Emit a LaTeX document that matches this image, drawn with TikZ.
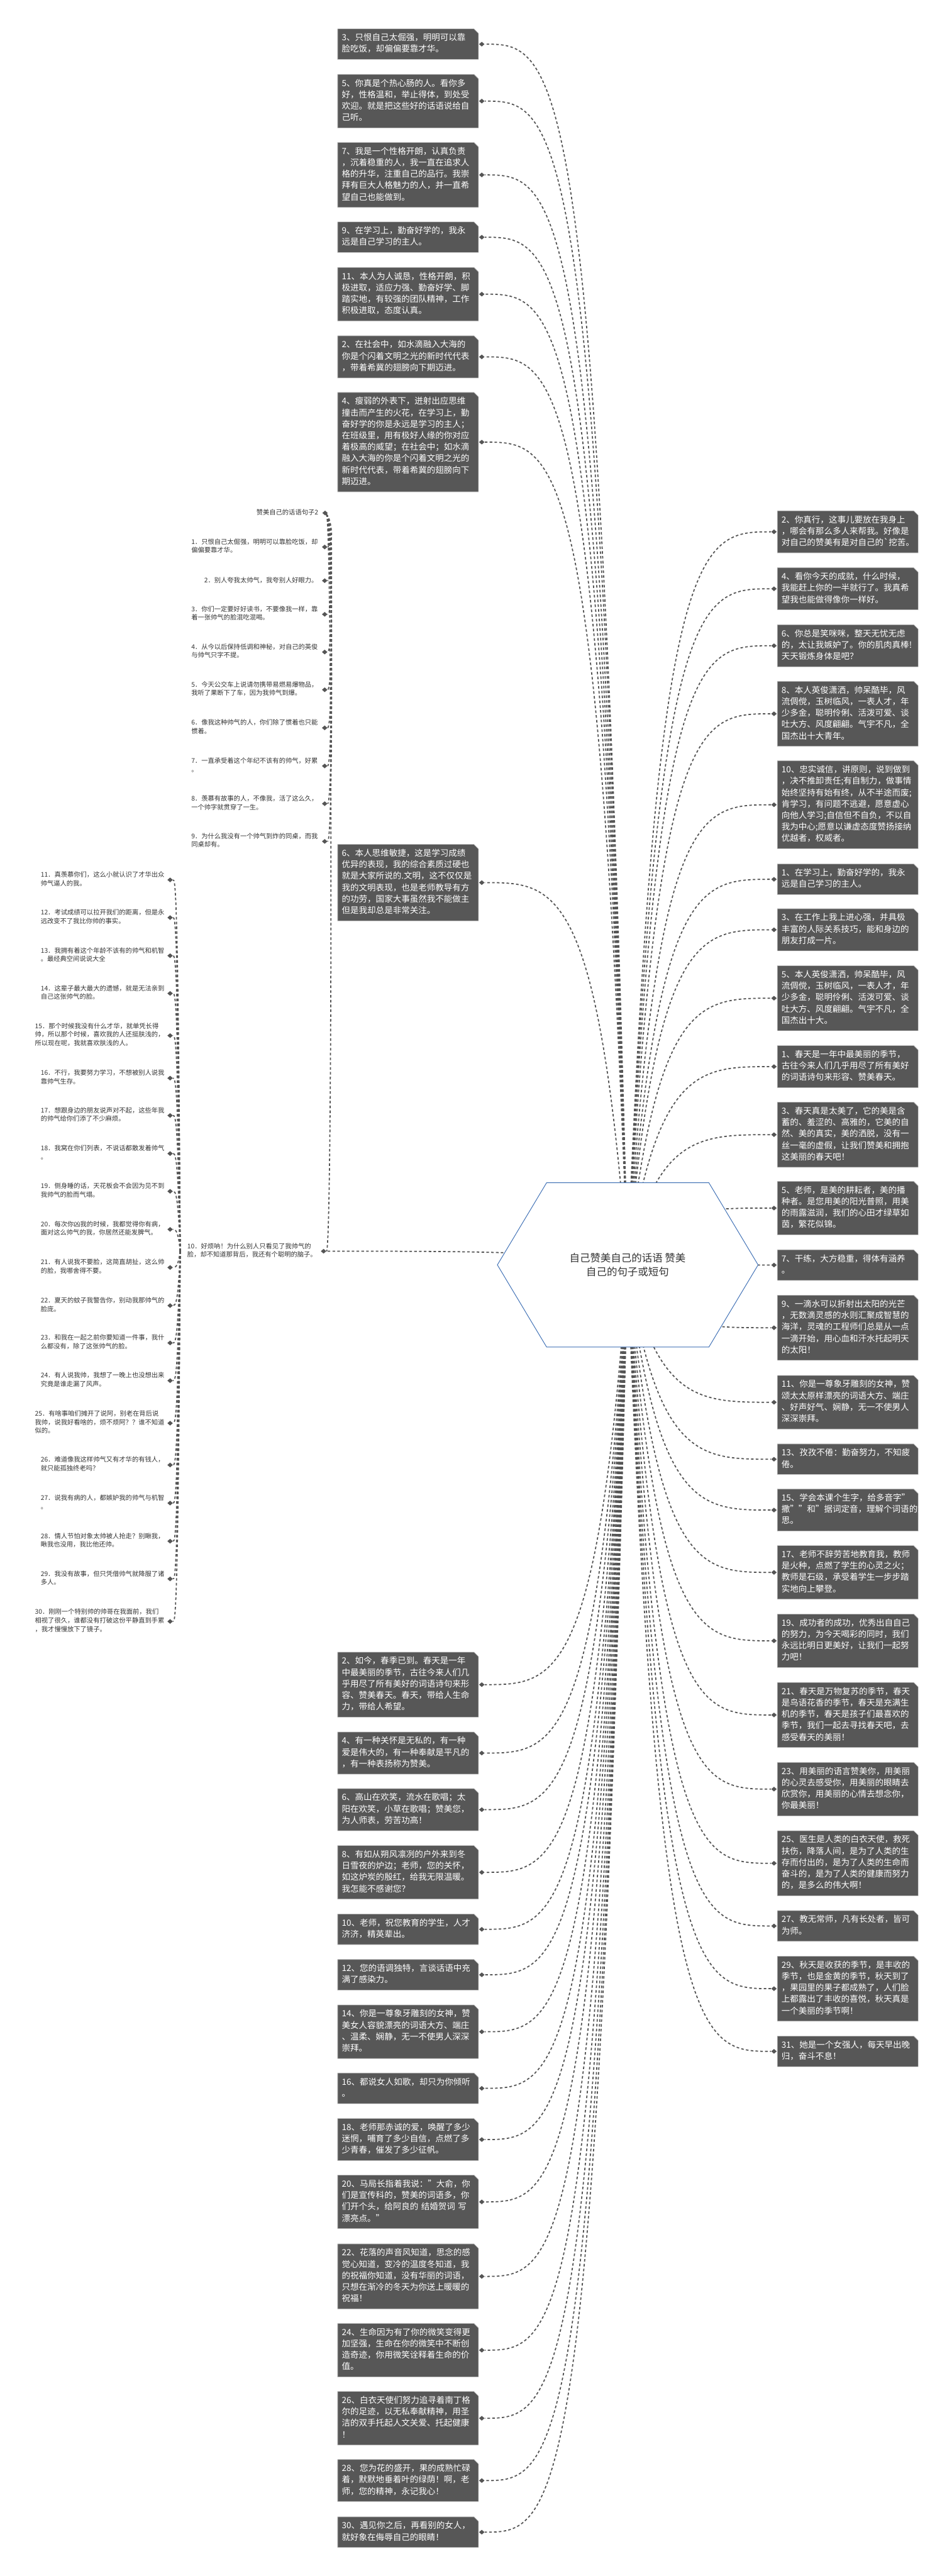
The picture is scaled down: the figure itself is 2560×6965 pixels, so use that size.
\documentclass[tikz,border=0pt]{standalone}
\usepackage{fontspec}
\setmainfont{Noto Sans CJK SC}
\usetikzlibrary{shapes.geometric,calc}

\definecolor{boxgray}{HTML}{575757}
\definecolor{linkgray}{HTML}{555555}
\definecolor{textgray}{HTML}{333333}
\definecolor{hexblue}{HTML}{3C6EB4}

\pgfdeclarelayer{bg}
\pgfsetlayers{bg,main}

% curved dashed link, ends flat at the target
\newcommand{\branch}[2]{%
  \path ($(#1)!0.2!(#2)$) coordinate (ca) ($(#1)!0.5!(#2)$) coordinate (cb);
  \draw[link] (#1) .. controls (ca |- #2) and (cb |- #2) .. (#2);}

\tikzset{
  darkbox/.style={anchor=north west, text=white, text width=179pt, align=left,
    inner xsep=5.5pt, inner ysep=5pt, font=\fontsize{11.5pt}{15.5pt}\selectfont,
    execute at begin node=\strut, execute at end node=\strut},
  item/.style={anchor=east, text=textgray, align=left, inner sep=0pt,
    font=\fontsize{8.75pt}{11.5pt}\selectfont,
    execute at begin node=\strut, execute at end node=\strut},
  dia/.style={diamond, fill=linkgray, inner sep=0pt, minimum width=7.5pt, minimum height=6.5pt},
  link/.style={draw=linkgray, line width=1.5pt, dash pattern=on 3.5pt off 3pt},
}

\begin{document}
\begin{tikzpicture}[x=0.5pt, y=-0.5pt]
  \useasboundingbox (0,0) rectangle (2560,6965);

  % left column, upper part
  \node[darkbox] (l1) at (913,78) {3、只恨自己太倔强，明明可以靠\\脸吃饭，却偏偏要靠才华。};
  \node[darkbox] (l2) at (913,201) {5、你真是个热心肠的人。看你多\\好，性格温和，举止得体，到处受\\欢迎。就是把这些好的话语说给自\\己听。};
  \node[darkbox] (l3) at (913,385) {7、我是一个性格开朗，认真负责\\，沉着稳重的人，我一直在追求人\\格的升华，注重自己的品行。我崇\\拜有巨大人格魅力的人，并一直希\\望自己也能做到。};
  \node[darkbox] (l4) at (913,600) {9、在学习上，勤奋好学的，我永\\远是自己学习的主人。};
  \node[darkbox] (l5) at (913,723) {11、本人为人诚恳，性格开朗，积\\极进取，适应力强、勤奋好学、脚\\踏实地，有较强的团队精神，工作\\积极进取，态度认真。};
  \node[darkbox] (l6) at (913,908) {2、在社会中，如水滴融入大海的\\你是个闪着文明之光的新时代代表\\，带着希冀的翅膀向下期迈进。};
  \node[darkbox] (l7) at (913,1061) {4、瘦弱的外表下，迸射出应思维\\撞击而产生的火花，在学习上，勤\\奋好学的你是永远是学习的主人；\\在班级里，用有极好人缘的你对应\\着极高的威望；在社会中；如水滴\\融入大海的你是个闪着文明之光的\\新时代代表，带着希冀的翅膀向下\\期迈进。};
  \node[darkbox] (l8) at (913,2283) {6、本人思维敏捷，这是学习成绩\\优异的表现，我的综合素质过硬也\\就是大家所说的.文明，这不仅仅是\\我的文明表现，也是老师教导有方\\的功劳，国家大事虽然我不能做主\\但是我却总是非常关注。};

  % left column, lower part
  \node[darkbox] (b1) at (913,4467) {2、如今，春季已到。春天是一年\\中最美丽的季节，古往今来人们几\\乎用尽了所有美好的词语诗句来形\\容、赞美春天。春天，带给人生命\\力，带给人希望。};
  \node[darkbox] (b2) at (913,4683) {4、有一种关怀是无私的，有一种\\爱是伟大的，有一种奉献是平凡的\\，有一种表扬称为赞美。};
  \node[darkbox] (b3) at (913,4836) {6、高山在欢笑，流水在歌唱；太\\阳在欢笑，小草在歌唱；赞美您，\\为人师表，劳苦功高！};
  \node[darkbox] (b4) at (913,4990) {8、有如从朔风凛冽的户外来到冬\\日雪夜的炉边；老师，您的关怀，\\如这炉炭的殷红，给我无限温暖。\\我怎能不感谢您？};
  \node[darkbox] (b5) at (913,5175) {10、老师，祝您教育的学生，人才\\济济，精英辈出。};
  \node[darkbox] (b6) at (913,5298) {12、您的语调独特，言谈话语中充\\满了感染力。};
  \node[darkbox] (b7) at (913,5421) {14、你是一尊象牙雕刻的女神，赞\\美女人容貌漂亮的词语大方、端庄\\、温柔、娴静，无一不使男人深深\\崇拜。};
  \node[darkbox] (b8) at (913,5605) {16、都说女人如歌，却只为你倾听\\。};
  \node[darkbox] (b9) at (913,5728) {18、老师那赤诚的爱，唤醒了多少\\迷惘，哺育了多少自信，点燃了多\\少青春，催发了多少征帆。};
  \node[darkbox] (b10) at (913,5881) {20、马局长指着我说："大俞，你\\们是宣传科的，赞美的词语多，你\\们开个头，给阿良的~结婚贺词~写\\漂亮点。"};
  \node[darkbox] (b11) at (913,6067) {22、花落的声音风知道，思念的感\\觉心知道，变冷的温度冬知道，我\\的祝福你知道，没有华丽的词语，\\只想在渐冷的冬天为你送上暖暖的\\祝福！};
  \node[darkbox] (b12) at (913,6282) {24、生命因为有了你的微笑变得更\\加坚强，生命在你的微笑中不断创\\造奇迹，你用微笑诠释着生命的价\\值。};
  \node[darkbox] (b13) at (913,6466) {26、白衣天使们努力追寻着南丁格\\尔的足迹，以无私奉献精神，用圣\\洁的双手托起人文关爱、托起健康\\！};
  \node[darkbox] (b14) at (913,6650) {28、您为花的盛开，果的成熟忙碌\\着，默默地垂着叶的绿荫！啊，老\\师，您的精神，永记我心！};
  \node[darkbox] (b15) at (913,6805) {30、遇见你之后，再看别的女人，\\就好象在侮辱自己的眼睛！};

  % right column
  \node[darkbox] (r1) at (2102,1381) {2、你真行，这事儿要放在我身上\\，哪会有那么多人来帮我。好像是\\对自己的赞美有是对自己的\textasciigrave 挖苦。};
  \node[darkbox] (r2) at (2102,1535) {4、看你今天的成就，什么时候，\\我能赶上你的一半就行了。我真希\\望我也能做得像你一样好。};
  \node[darkbox] (r3) at (2102,1689) {6、你总是笑咪咪，整天无忧无虑\\的，太让我嫉妒了。你的肌肉真棒!\\天天锻炼身体是吧？};
  \node[darkbox] (r4) at (2102,1842) {8、本人英俊潇洒，帅呆酷毕，风\\流倜傥，玉树临风，一表人才，年\\少多金，聪明伶俐、活泼可爱、谈\\吐大方、风度翩翩。气宇不凡，全\\国杰出十大青年。};
  \node[darkbox] (r5) at (2102,2057) {10、忠实诚信，讲原则，说到做到\\，决不推卸责任;有自制力，做事情\\始终坚持有始有终，从不半途而废;\\肯学习，有问题不逃避，愿意虚心\\向他人学习;自信但不自负，不以自\\我为中心;愿意以谦虚态度赞扬接纳\\优越者，权威者。};
  \node[darkbox] (r6) at (2102,2336) {1、在学习上，勤奋好学的，我永\\远是自己学习的主人。};
  \node[darkbox] (r7) at (2102,2457) {3、在工作上我上进心强，并具极\\丰富的人际关系技巧，能和身边的\\朋友打成一片。};
  \node[darkbox] (r8) at (2102,2611) {5、本人英俊潇洒，帅呆酷毕，风\\流倜傥，玉树临风，一表人才，年\\少多金，聪明伶俐、活泼可爱、谈\\吐大方、风度翩翩。气宇不凡，全\\国杰出十大。};
  \node[darkbox] (r9) at (2102,2827) {1、春天是一年中最美丽的季节，\\古往今来人们几乎用尽了所有美好\\的词语诗句来形容、赞美春天。};
  \node[darkbox] (r10) at (2102,2980) {3、春天真是太美了，它的美是含\\蓄的、羞涩的、高雅的，它美的自\\然、美的真实，美的洒脱，没有一\\丝一毫的虚假，让我们赞美和拥抱\\这美丽的春天吧！};
  \node[darkbox] (r11) at (2102,3194) {5、老师，是美的耕耘者，美的播\\种者。是您用美的阳光普照，用美\\的雨露滋润，我们的心田才绿草如\\茵，繁花似锦。};
  \node[darkbox] (r12) at (2102,3379) {7、干练，大方稳重，得体有涵养\\。};
  \node[darkbox] (r13) at (2102,3502) {9、一滴水可以折射出太阳的光芒\\，无数滴灵感的水则汇聚成智慧的\\海洋，灵魂的工程师们总是从一点\\一滴开始，用心血和汗水托起明天\\的太阳！};
  \node[darkbox] (r14) at (2102,3719) {11、你是一尊象牙雕刻的女神，赞\\颂太太原样漂亮的词语大方、端庄\\、好声好气、娴静，无一不使男人\\深深崇拜。};
  \node[darkbox] (r15) at (2102,3904) {13、孜孜不倦：勤奋努力，不知疲\\倦。};
  \node[darkbox] (r16) at (2102,4026) {15、学会本课个生字，给多音字"\\撒""和"据词定音，理解个词语的意\\思。};
  \node[darkbox] (r17) at (2102,4179) {17、老师不辞劳苦地教育我，教师\\是火种，点燃了学生的心灵之火；\\教师是石级，承受着学生一步步踏\\实地向上攀登。};
  \node[darkbox] (r18) at (2102,4364) {19、成功者的成功，优秀出自自己\\的努力，为今天喝彩的同时，我们\\永远比明日更美好，让我们一起努\\力吧！};
  \node[darkbox] (r19) at (2102,4549) {21、春天是万物复苏的季节，春天\\是鸟语花香的季节，春天是充满生\\机的季节，春天是孩子们最喜欢的\\季节，我们一起去寻找春天吧，去\\感受春天的美丽！};
  \node[darkbox] (r20) at (2102,4765) {23、用美丽的语言赞美你，用美丽\\的心灵去感受你，用美丽的眼睛去\\欣赏你，用美丽的心情去想念你，\\你最美丽！};
  \node[darkbox] (r21) at (2102,4950) {25、医生是人类的白衣天使，救死\\扶伤，降落人间，是为了人类的生\\存而付出的，是为了人类的生命而\\奋斗的，是为了人类的健康而努力\\的，是多么的伟大啊！};
  \node[darkbox] (r22) at (2102,5166) {27、教无常师，凡有长处者，皆可\\为师。};
  \node[darkbox] (r23) at (2102,5289) {29、秋天是收获的季节，是丰收的\\季节，也是金黄的季节，秋天到了\\，果园里的果子都成熟了，人们脸\\上都露出了丰收的喜悦，秋天真是\\一个美丽的季节啊！};
  \node[darkbox] (r24) at (2102,5505) {31、她是一个女强人，每天早出晚\\归，奋斗不息！};

  % plain list on the far left
  \node[item] (s0) at (861,1387) {赞美自己的话语句子2};
  \node[item] (s1) at (860,1479) {1．只恨自己太倔强，明明可以靠脸吃饭，却\\偏偏要靠才华。};
  \node[item] (s2) at (860,1570) {2．别人夸我太帅气，我夸别人好眼力。};
  \node[item] (s3) at (860,1661) {3．你们一定要好好读书，不要像我一样，靠\\着一张帅气的脸混吃混喝。};
  \node[item] (s4) at (860,1763) {4．从今以后保持低调和神秘，对自己的英俊\\与帅气只字不提。};
  \node[item] (s5) at (860,1865) {5．今天公交车上说请勿携带易燃易爆物品，\\我听了果断下了车，因为我帅气到爆。};
  \node[item] (s6) at (860,1968) {6．像我这种帅气的人，你们除了惯着也只能\\惯着。};
  \node[item] (s7) at (860,2071) {7．一直承受着这个年纪不该有的帅气，好累\\。};
  \node[item] (s8) at (860,2173) {8．羡慕有故事的人，不像我，活了这么久，\\一个帅字就贯穿了一生。};
  \node[item] (s9) at (860,2275) {9．为什么我没有一个帅气到炸的同桌，而我\\同桌却有。};
  \node[item] (s10) at (857,3383) {10．好烦呐！为什么别人只看见了我帅气的\\脸，却不知道那背后，我还有个聪明的脑子。};
  \node[item] (s11) at (445,2379) {11．真羡慕你们，这么小就认识了才华出众\\帅气逼人的我。};
  \node[item] (s12) at (445,2481) {12．考试成绩可以拉开我们的距离，但是永\\远改变不了我比你帅的事实。};
  \node[item] (s13) at (445,2584) {13．我拥有着这个年龄不该有的帅气和机智\\。最经典空间说说大全};
  \node[item] (s14) at (445,2686) {14．这辈子最大最大的遗憾，就是无法亲到\\自己这张帅气的脸。};
  \node[item] (s15) at (445,2800) {15．那个时候我没有什么才华，就单凭长得\\帅，所以那个时候，喜欢我的人还挺肤浅的，\\所以现在呢，我就喜欢肤浅的人。};
  \node[item] (s16) at (445,2915) {16．不行，我要努力学习，不想被别人说我\\靠帅气生存。};
  \node[item] (s17) at (445,3016) {17．想跟身边的朋友说声对不起，这些年我\\的帅气给你们添了不少麻烦。};
  \node[item] (s18) at (445,3119) {18．我窝在你们列表，不说话都散发着帅气\\。};
  \node[item] (s19) at (445,3221) {19．侧身睡的话，天花板会不会因为见不到\\我帅气的脸而气塌。};
  \node[item] (s20) at (445,3324) {20．每次你凶我的时候，我都觉得你有病，\\面对这么帅气的我，你居然还能发脾气。};
  \node[item] (s21) at (445,3427) {21．有人说我不要脸，这简直胡扯，这么帅\\的脸，我哪舍得不要。};
  \node[item] (s22) at (445,3530) {22．夏天的蚊子我警告你，别动我那帅气的\\脸庞。};
  \node[item] (s23) at (445,3631) {23．和我在一起之前你要知道一件事，我什\\么都没有，除了这张帅气的脸。};
  \node[item] (s24) at (445,3733) {24．有人说我帅，我想了一晚上也没想出来\\究竟是谁走漏了风声。};
  \node[item] (s25) at (445,3848) {25．有啥事咱们摊开了说阿，别老在背后说\\我帅，说我好看啥的，烦不烦阿？？谁不知道\\似的。};
  \node[item] (s26) at (445,3961) {26．难道像我这样帅气又有才华的有钱人，\\就只能孤独终老吗？};
  \node[item] (s27) at (445,4064) {27．说我有病的人，都嫉妒我的帅气与机智\\。};
  \node[item] (s28) at (445,4167) {28．情人节怕对象太帅被人抢走？别瞅我，\\瞅我也没用，我比他还帅。};
  \node[item] (s29) at (445,4269) {29．我没有故事，但只凭借帅气就降服了诸\\多人。};
  \node[item] (s30) at (445,4384) {30．刚刚一个特别帅的帅哥在我面前，我们\\相视了很久，谁都没有打破这份平静直到手累\\，我才慢慢放下了镜子。};

  % diamonds
  \foreach \b in {l1,l2,l3,l4,l5,l6,l7,l8,b1,b2,b3,b4,b5,b6,b7,b8,b9,b10,b11,b12,b13,b14,b15}
    \node[dia] (d\b) at ([xshift=4.5pt]\b.east) {};
  \foreach \b in {r1,r2,r3,r4,r5,r6,r7,r8,r9,r10,r11,r12,r13,r14,r15,r16,r17,r18,r19,r20,r21,r22,r23,r24}
    \node[dia] (d\b) at ([xshift=-4.5pt]\b.west) {};
  \foreach \b in {s0,s1,s2,s3,s4,s5,s6,s7,s8,s9,s10}
    \node[dia] (d\b) at ([xshift=9pt]\b.east) {};
  \foreach \b in {s11,s12,s13,s14,s15,s16,s17,s18,s19,s20,s21,s22,s23,s24,s25,s26,s27,s28,s29,s30}
    \node[dia] (d\b) at ([xshift=7.5pt]\b.east) {};
  \coordinate (s10l) at ([xshift=-9.5pt]s10.west);

  % centre
  \filldraw[fill=white, draw=hexblue, line width=0.8pt]
    (1345,3420) -- (1478,3198) -- (1917,3198) -- (2050,3420) -- (1917,3642) -- (1478,3642) -- cycle;
  \node[text=textgray, align=center, font=\fontsize{14pt}{19pt}\selectfont] (root) at (1697,3420)
    {自己赞美自己的话语 赞美\\自己的句子或短句};

  \begin{pgfonlayer}{bg}
    \fill[white] (0,0) rectangle (2560,6965);
    \foreach \b in {l1,l2,l3,l4,l5,l6,l7,l8,b1,b2,b3,b4,b5,b6,b7,b8,b9,b10,b11,b12,b13,b14,b15,r1,r2,r3,r4,r5,r6,r7,r8,r9,r10,r11,r12,r13,r14,r15,r16,r17,r18,r19,r20,r21,r22,r23,r24}
      \filldraw[fill=boxgray, draw=black!25, line width=0.6pt]
        (\b.south west) -- (\b.north west) -- ([xshift=-6pt]\b.north east)
        -- ([yshift=-6pt]\b.north east) -- (\b.south east) -- cycle;
    \foreach \b in {l1,l2,l3,l4,l5,l6,l7,l8,b1,b2,b3,b4,b5,b6,b7,b8,b9,b10,b11,b12,b13,b14,b15,r1,r2,r3,r4,r5,r6,r7,r8,r9,r10,r11,r12,r13,r14,r15,r16,r17,r18,r19,r20,r21,r22,r23,r24,s10}
      \branch{root.center}{d\b};
    \foreach \i in {1,...,10}
      \draw[link] (ds0) .. controls +(10pt,-10pt) and +(12pt,0pt) .. (ds\i);
    \foreach \i in {11,...,30}
      \branch{s10l}{ds\i};
  \end{pgfonlayer}
\end{tikzpicture}
\end{document}
